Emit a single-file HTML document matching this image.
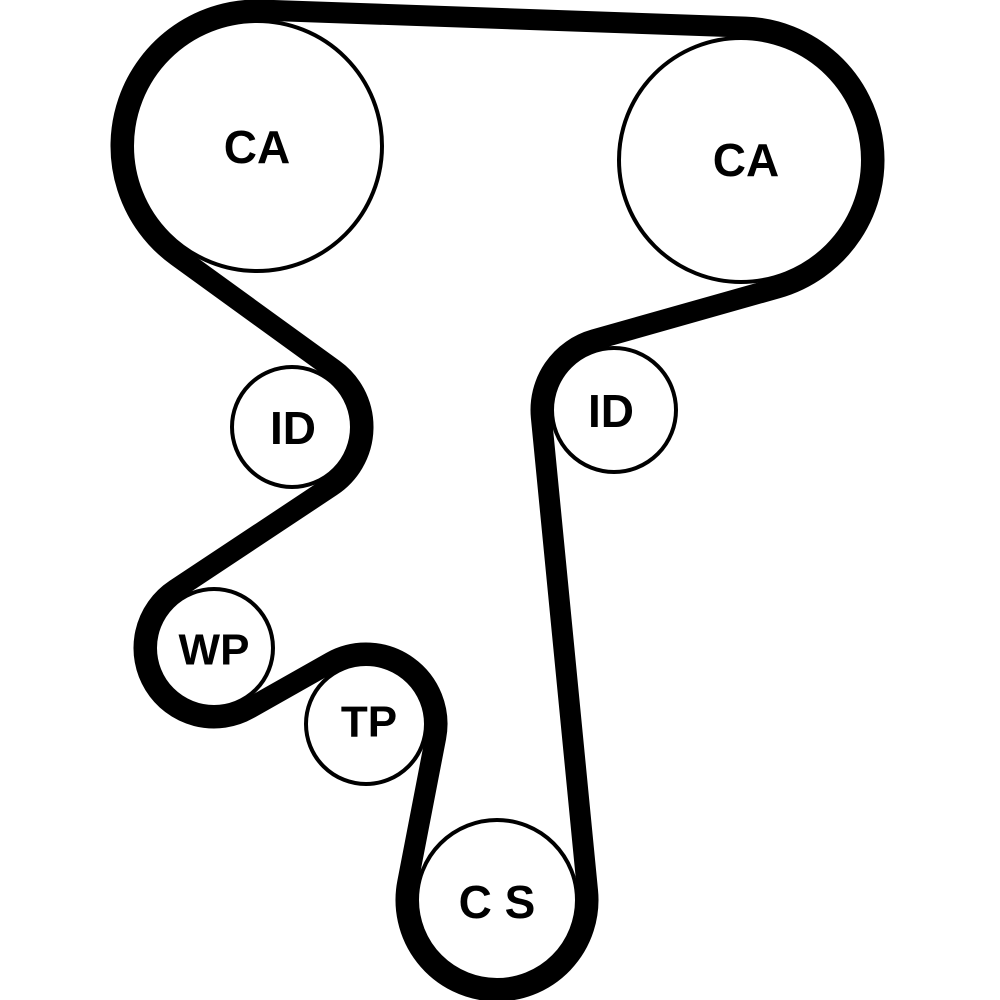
<!DOCTYPE html>
<html><head><style>
html,body{margin:0;padding:0;background:#fff;}
svg{display:block;}
text{font-family:"Liberation Sans",Arial,sans-serif;font-weight:bold;font-size:46px;text-anchor:middle;dominant-baseline:central;fill:#000;}
</style></head><body>
<svg id="s" width="1000" height="1000" viewBox="0 0 1000 1000">
<g fill="none" stroke="#000" stroke-width="4">
<circle cx="257" cy="146" r="125"/>
<circle cx="741" cy="160" r="122"/>
<circle cx="614" cy="410" r="62"/>
<circle cx="497" cy="900" r="80"/>
<circle cx="366" cy="724" r="60"/>
<circle cx="214" cy="648" r="59"/>
<circle cx="292" cy="427" r="60"/>
</g>
<path id="belt" fill="none" stroke="#000" stroke-width="21" stroke-linejoin="round"/>
<text x="257" y="147">CA</text>
<text x="746" y="160">CA</text>
<text x="611" y="411">ID</text>
<text x="293" y="428">ID</text>
<text x="214" y="650" style="font-size:44px">WP</text>
<text x="369" y="722" style="font-size:44px">TP</text>
<text x="497" y="902">C S</text>
</svg>
<script>
var P=[[257,146,125,1],[741,160,122,1],[614,410,62,-1],[497,900,80,1],[366,724,60,-1],[214,648,59,1],[292,427,60,-1]];
var off=11;
function tan(A,B){
 var r1=A[3]*(A[2]+off), r2=B[3]*(B[2]+off);
 var Dx=B[0]-A[0],Dy=B[1]-A[1],L=Math.hypot(Dx,Dy);
 var k=(r2-r1)/L, q=Math.sqrt(Math.max(0,1-k*k));
 var ux=Dx/L,uy=Dy/L,px=-uy,py=ux;
 var best=null;
 [1,-1].forEach(function(sg){
  var nx=k*ux+sg*q*px, ny=k*uy+sg*q*py;
  var dx=ny,dy=-nx;
  if(dx*Dx+dy*Dy>0) best=[nx,ny];
 });
 var nx=best[0],ny=best[1];
 return [[A[0]-r1*nx,A[1]-r1*ny],[B[0]-r2*nx,B[1]-r2*ny]];
}
var n=P.length,T=[];
for(var i=0;i<n;i++)T.push(tan(P[i],P[(i+1)%n]));
var d="";
for(var i=0;i<n;i++){
 var C=P[(i+1)%n], st=T[i][1], en=T[(i+1)%n][0];
 if(i==0) d+="M"+T[0][0][0]+","+T[0][0][1];
 d+=" L"+st[0]+","+st[1];
 var R=C[2]+off;
 var a1=Math.atan2(st[1]-C[1],st[0]-C[0]), a2=Math.atan2(en[1]-C[1],en[0]-C[0]);
 var sw=C[3]>0?1:0;
 var delta=C[3]>0?(a2-a1):(a1-a2);
 while(delta<0)delta+=2*Math.PI;
 var large=delta>Math.PI?1:0;
 d+=" A"+R+","+R+" 0 "+large+" "+sw+" "+en[0]+","+en[1];
}
d+=" Z";
document.getElementById("belt").setAttribute("d",d);
</script>
</body></html>
